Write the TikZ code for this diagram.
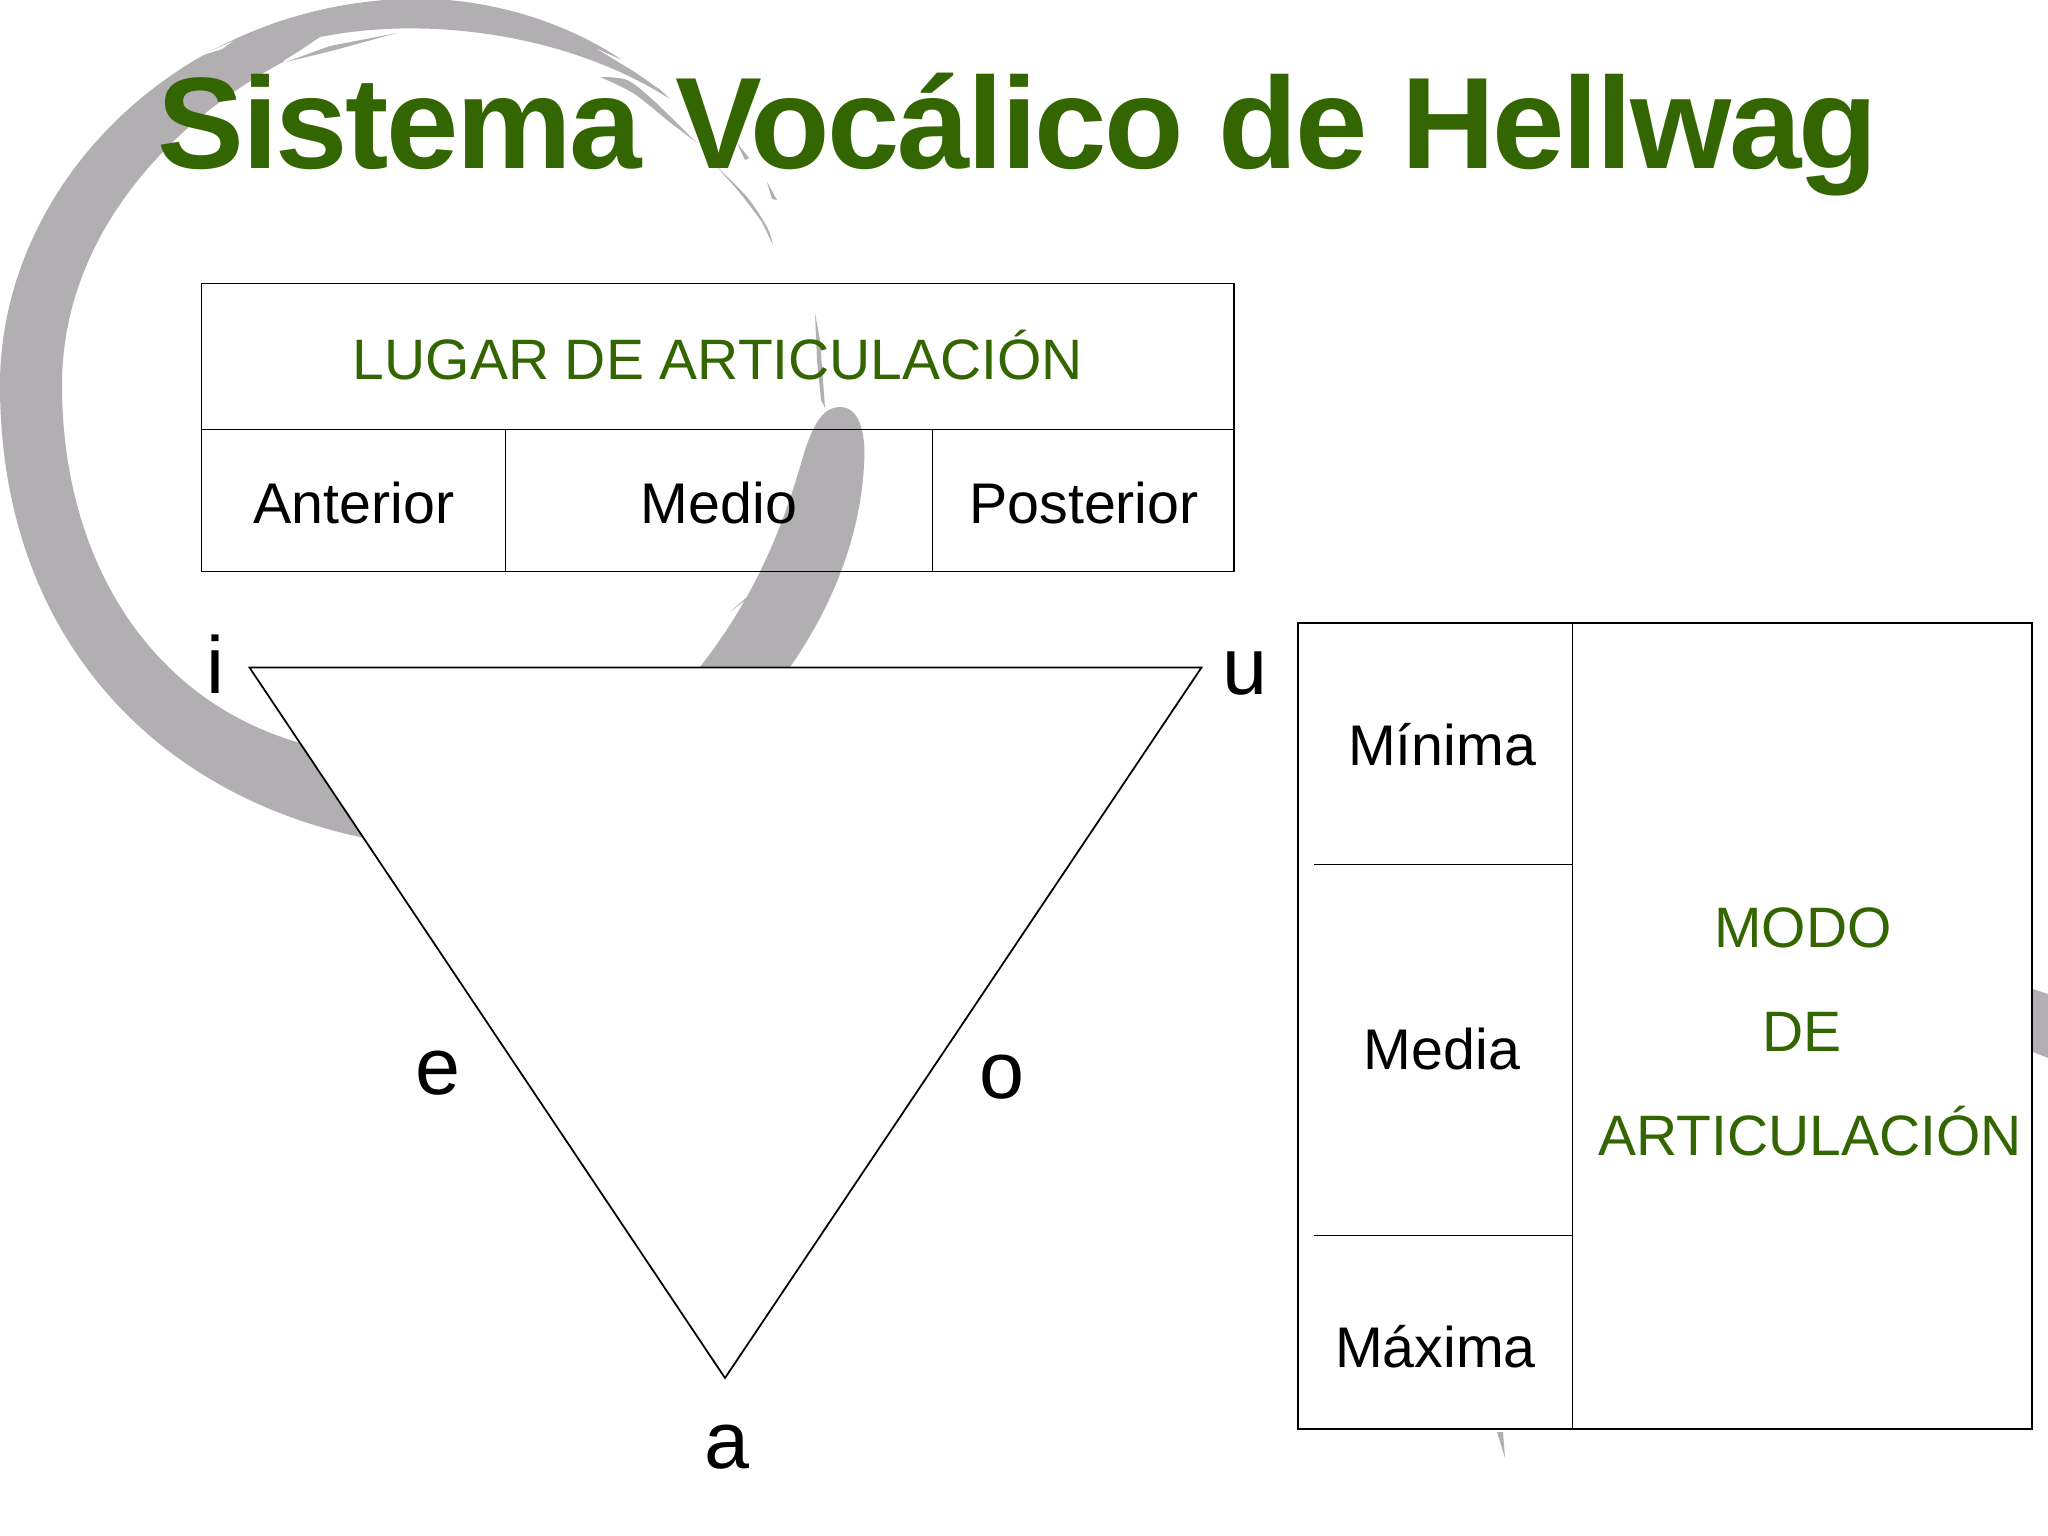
\documentclass[tikz,border=0pt]{standalone}
\usepackage{fontspec}
\setmainfont{Liberation Sans}
\definecolor{ttl}{HTML}{336600}
\definecolor{ring}{HTML}{B1AFB1}
\tikzset{
  titletext/.style={anchor=base,inner sep=0pt,text=ttl,font=\bfseries\fontsize{37}{40}\selectfont\addfontfeatures{LetterSpace=-1.86}},
  greentext/.style={anchor=base,inner sep=0pt,text=ttl,font=\fontsize{16.2}{19}\selectfont},
  celltext/.style={anchor=base,inner sep=0pt,text=black,font=\fontsize{16.3}{19}\selectfont},
  vowel/.style={anchor=base,inner sep=0pt,text=black,font=\fontsize{23}{28}\selectfont},
  rule/.style={draw=black,line width=0.52pt,line join=miter},
  tri/.style={draw=black,fill=white,line width=0.5pt,line join=miter},
  brush/.style={fill=ring,draw=none},
}
\begin{document}
\begin{tikzpicture}[x=0.01cm,y=-0.01cm]
\useasboundingbox[fill=white] (0,0) rectangle (2048,1536);
% brush ring
\fill[brush] (670,99) .. controls (590,20) and (480,-5) .. (400,-1)
  .. controls (170,10) and (0,190) .. (0,385)
  .. controls (0,640) and (160,800) .. (375,840)
  -- (375,775) -- (300,743)
  .. controls (150,700) and (62,560) .. (62,385)
  .. controls (62,240) and (165,125) .. (283,62)
  -- (320,37)
  .. controls (430,15) and (570,35) .. (670,99) -- cycle;
% loose strands of the top stroke
\fill[white] (200,56) -- (233,41) -- (222,49) -- cycle;
\fill[white] (283,61) -- (322,38) -- (397,29) -- (397,33) -- (330,45) -- cycle;
\fill[brush] (286,62) -- (330,46) -- (397,33) -- (335,50) -- cycle;
\fill[white] (597,49) -- (640,68) -- (668,95) -- (635,72) -- cycle;
\fill[brush] plot[smooth] coordinates {(600,77)(627,80)(653,100)(697,143)} -- plot[smooth] coordinates {(667,120)(633,93)(600,77)} -- cycle;
\fill[brush] plot[smooth] coordinates {(715,165)(747,197)(767,227)(773,245)} -- plot[smooth] coordinates {(762,222)(740,193)(715,165)} -- cycle;
\fill[brush] (737,143) -- (749,158) -- (745,160) -- cycle;
\fill[brush] (767,182) -- (777,200) -- (772,199) -- cycle;
\fill[brush] (730,612) -- (747,597) -- (747,599) -- cycle;
\fill[brush] (815,313) -- (820,340) -- (825,408) -- (821,400) -- (817,360) -- cycle;
% right end of the ring
\fill[brush] (840,407) .. controls (862,407) and (866,440) .. (864,465)
  .. controls (860,540) and (830,610) .. (790,667) -- (790,680) -- (700,680) -- (700,667)
  .. controls (760,590) and (785,520) .. (805,450)
  .. controls (815,420) and (825,407) .. (840,407) -- cycle;
\fill[brush] (2048,994) -- (2033,989) -- (2033,1052) -- (2048,1058) -- cycle;
\fill[brush] (1497,1432) -- (1503,1432) -- (1505,1458) -- cycle;
% triangle
\coordinate (pi) at (249.5,667.5);
\coordinate (pu) at (1201.5,667.5);
\coordinate (pa) at (725,1378);
\path[tri] (pi) -- (pu) -- (pa) -- cycle;
% top table
\coordinate (t1) at (201.5,283.5);
\coordinate (t2) at (1234,283.5);
\coordinate (t3) at (1234,571.5);
\coordinate (t4) at (201.5,571.5);
\coordinate (t5) at (201.5,429.5);
\coordinate (t6) at (1234,429.5);
\coordinate (t7) at (505.5,429.5);
\coordinate (t8) at (505.5,571.5);
\coordinate (t9) at (932.5,429.5);
\coordinate (t10) at (932.5,571.5);
\draw[rule] (t1) -- (t2) -- (t3) -- (t4) -- cycle;
\draw[rule] (t5) -- (t6);
\draw[rule] (t7) -- (t8);
\draw[rule] (t9) -- (t10);
% right table
\coordinate (r1) at (1298,623);
\coordinate (r2) at (2032,623);
\coordinate (r3) at (2032,1429);
\coordinate (r4) at (1298,1429);
\coordinate (r5) at (1572.5,623);
\coordinate (r6) at (1572.5,1429);
\coordinate (r7) at (1314,864.5);
\coordinate (r8) at (1572.5,864.5);
\coordinate (r9) at (1314,1235.5);
\coordinate (r10) at (1572.5,1235.5);
\draw[rule] (r1) -- (r2) -- (r3) -- (r4) -- cycle;
\draw[rule] (r5) -- (r6);
\draw[rule] (r7) -- (r8);
\draw[rule] (r9) -- (r10);
% texts
\node[titletext] (title) at (1018,168.5) {Sistema Vocálico de Hellwag};
\node[greentext] (lugar) at (718,379) {LUGAR DE ARTICULACIÓN};
\node[celltext] (ant) at (354,523) {Anterior};
\node[celltext] (med) at (719,523) {Medio};
\node[celltext] (pos) at (1084,523) {Posterior};
\node[vowel] (vi) at (215,693) {i};
\node[vowel] (vu) at (1245,694) {u};
\node[vowel] (ve) at (438,1094) {e};
\node[vowel] (vo) at (1002,1098) {o};
\node[vowel] (va) at (727,1468) {a};
\node[celltext] (min) at (1442,765) {Mínima};
\node[celltext] (mdi) at (1442,1069) {Media};
\node[celltext] (max) at (1435.5,1367) {Máxima};
\node[greentext] (m1) at (1803,947) {MODO};
\node[greentext] (m2) at (1802,1051) {DE};
\node[greentext] (m3) at (1810,1155) {ARTICULACIÓN};
\end{tikzpicture}
\end{document}
